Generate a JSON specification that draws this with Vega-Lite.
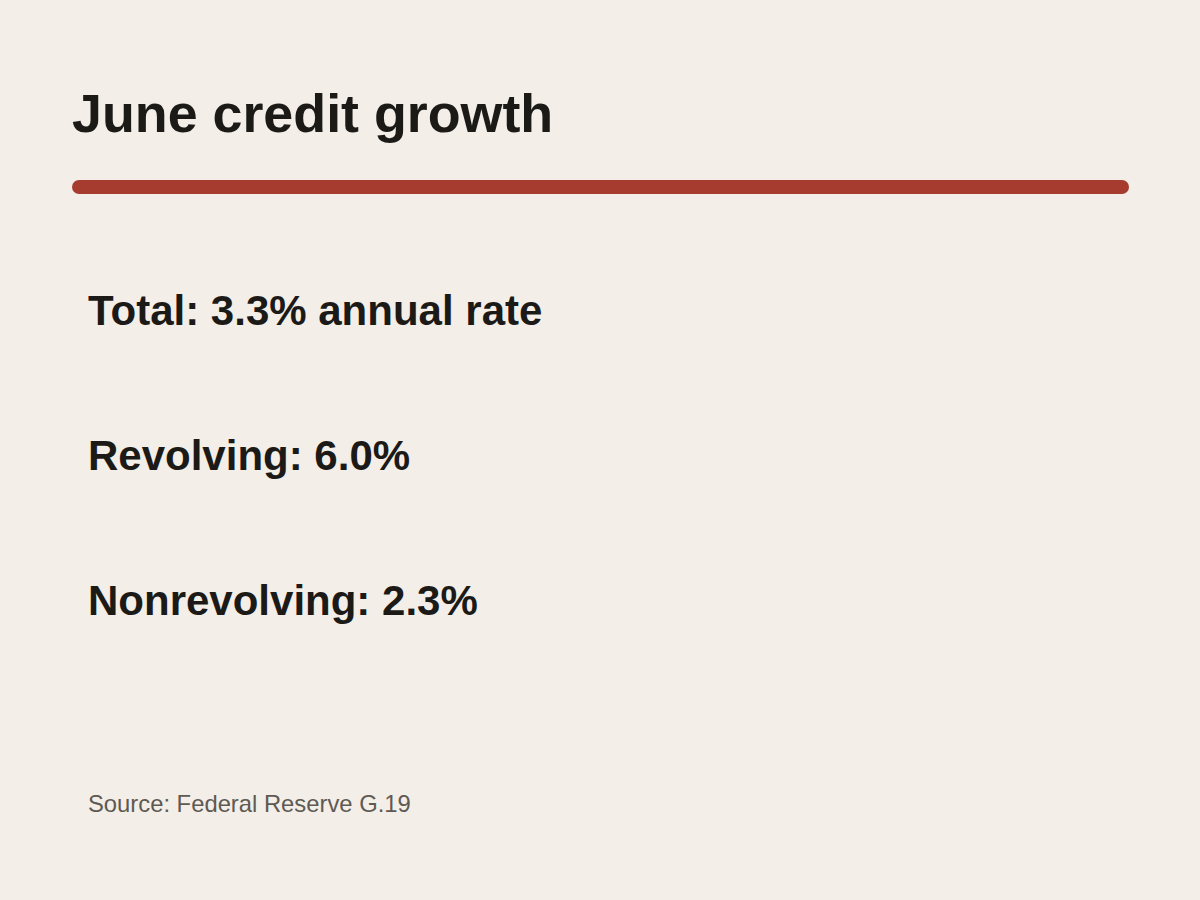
{
  "$schema": "https://vega.github.io/schema/vega-lite/v6.json",
  "width": 1200,
  "height": 900,
  "autosize": {"type": "fit", "contains": "padding"},
  "padding": 0,
  "background": "#f3eee8",
  "config": {"view": {"stroke": null}, "font": "Liberation Sans"},
  "datasets": {
    "heading": [{"label": "June credit growth", "row": 0, "col": 0}],
    "divider": [{"row": 1, "start": 0, "end": 1}],
    "stats": [
      {"label": "Total: 3.3% annual rate", "row": 2, "col": 0},
      {"label": "Revolving: 6.0%", "row": 3, "col": 0},
      {"label": "Nonrevolving: 2.3%", "row": 4, "col": 0}
    ],
    "note": [{"label": "Source: Federal Reserve G.19", "row": 5, "col": 0}]
  },
  "layer": [
    {
      "data": {"name": "heading"},
      "mark": {"type": "text", "align": "left", "baseline": "alphabetic", "font": "Liberation Sans", "fontSize": 53.8, "fontWeight": "bold", "color": "#1c1a17", "dx": -7, "dy": 96},
      "encoding": {
        "x": {"field": "col", "type": "quantitative", "scale": {"domain": [0, 1], "range": [79, 1122]}, "axis": null},
        "y": {"field": "row", "type": "quantitative", "scale": {"domain": [2, 4], "range": [326, 616]}, "axis": null},
        "text": {"field": "label"}
      }
    },
    {
      "data": {"name": "divider"},
      "mark": {"type": "rule", "color": "#a63c2f", "strokeWidth": 14, "strokeCap": "round", "yOffset": 6},
      "encoding": {
        "x": {"field": "start", "type": "quantitative"},
        "x2": {"field": "end"},
        "y": {"field": "row", "type": "quantitative"}
      }
    },
    {
      "data": {"name": "stats"},
      "mark": {"type": "text", "align": "left", "baseline": "alphabetic", "font": "Liberation Sans", "fontSize": 42, "fontWeight": "bold", "color": "#1c1a17", "dx": 9, "dy": -1},
      "encoding": {
        "x": {"field": "col", "type": "quantitative"},
        "y": {"field": "row", "type": "quantitative"},
        "text": {"field": "label"}
      }
    },
    {
      "data": {"name": "note"},
      "mark": {"type": "text", "align": "left", "baseline": "alphabetic", "font": "Liberation Sans", "fontSize": 23.8, "color": "#5e5a53", "dx": 9, "dy": 51},
      "encoding": {
        "x": {"field": "col", "type": "quantitative"},
        "y": {"field": "row", "type": "quantitative"},
        "text": {"field": "label"}
      }
    }
  ]
}
